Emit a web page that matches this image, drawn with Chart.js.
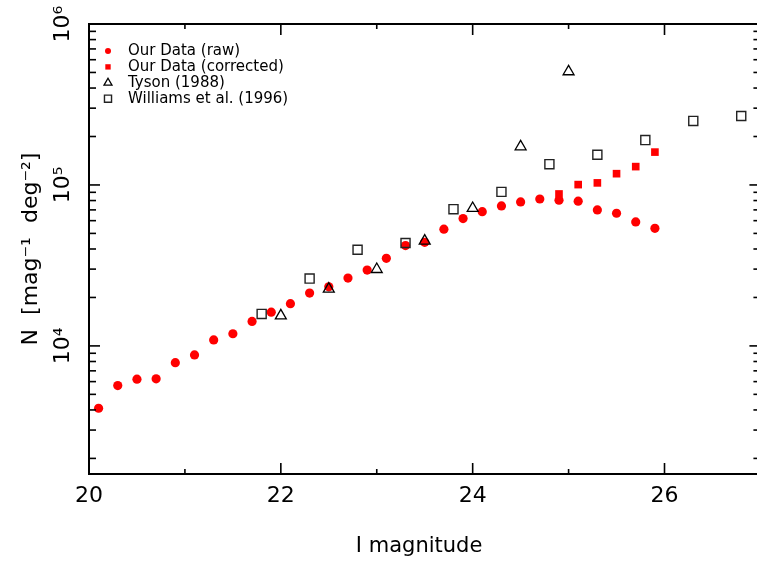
<!DOCTYPE html>
<html><head><meta charset="utf-8">
<script src="https://cdn.jsdelivr.net/npm/chart.js@4/dist/chart.umd.min.js"></script>
<style>html,body{margin:0;padding:0;background:#fff;}#wrap{width:757px;height:562px;}</style>
</head><body><div id="wrap"><canvas id="c" width="757" height="562"></canvas></div>
<script>
// ---- data ----
const rawMag = [20.1,20.3,20.5,20.7,20.9,21.1,21.3,21.5,21.7,21.9,22.1,22.3,22.5,22.7,22.9,23.1,23.3,23.5,23.7,23.9,24.1,24.3,24.5,24.7,24.9,25.1,25.3,25.5,25.7,25.9];
const rawN   = [4100,5670,6210,6240,7870,8790,10900,11900,14200,16200,18300,21300,23300,26400,29600,35000,42000,44000,53100,61800,68200,74100,78400,81800,80400,79300,70000,66700,58900,53800];
const corrMag = [24.9,25.1,25.3,25.5,25.7,25.9];
const corrN   = [87900,100500,103000,117500,130000,160000];
const tysonMag = [22.0,22.5,23.0,23.5,24.0,24.5,25.0];
const tysonN   = [15400,22600,29900,44900,71600,173000,506000];
const williamsMag = [21.8,22.3,22.8,23.3,23.8,24.3,24.8,25.3,25.8,26.3,26.8];
const williamsN   = [15800,26200,39600,43600,70700,90600,134600,154000,190000,250000,268000];
const seriesLabels = ['Our Data (raw)','Our Data (corrected)','Tyson (1988)','Williams et al. (1996)'];
const xTickValues = [20,22,24,26];
const yTickValues = [1e4,1e5,1e6];
const yTickLabels = ['10\u2074','10\u2075','10\u2076'];
const xTitle = 'I magnitude';
const yTitle = 'N  [mag\u207B\u00B9  deg\u207B\u00B2]';
const xFrameEnd = 27;   // the plot frame's right edge lies just outside the picture

const pts = (xs, ys) => xs.map((m, i) => ({x: m, y: ys[i]}));
const FONT = 'DejaVu Sans';

// inward ticks + frame on all four sides
const framePlugin = {
  id: 'frame',
  afterDraw(chart) {
    const {ctx, chartArea: a, scales: {x, y}} = chart;
    const R = x.getPixelForValue(xFrameEnd);
    ctx.save();
    ctx.strokeStyle = '#000';
    const seg = (x1, y1, x2, y2, w) => { ctx.lineWidth = w; ctx.beginPath(); ctx.moveTo(x1, y1); ctx.lineTo(x2, y2); ctx.stroke(); };
    for (let v = 20; v <= xFrameEnd; v++) {
      const px = x.getPixelForValue(v);
      const L = (v % 2 === 0) ? 11 : 5;
      seg(px, a.bottom, px, a.bottom - L, 1.6);
      seg(px, a.top, px, a.top + L, 1.6);
    }
    for (let e = 3; e <= 6; e++) {
      for (let k = 1; k < 10; k++) {
        const v = k * Math.pow(10, e);
        if (v < y.min || v > y.max) continue;
        const py = y.getPixelForValue(v);
        const L = k === 1 ? 11 : 7;
        seg(a.left, py, a.left + L, py, 1.6);
        seg(R, py, R - L, py, 1.6);
      }
    }
    ctx.lineWidth = 2;
    ctx.strokeRect(a.left, a.top, R - a.left, a.bottom - a.top);
    ctx.restore();
  }
};

const legendRadius = [3, 3.8, 4.6, 5];
const legendPlugin = {
  id: 'insideLegend',
  afterDraw(chart) {
    const {ctx, chartArea: a} = chart;
    ctx.save();
    ctx.font = '15px "' + FONT + '"';
    ctx.textBaseline = 'middle';
    ctx.textAlign = 'left';
    chart.data.datasets.forEach((ds, i) => {
      const cy = a.top + 27 + i * 15.9;
      const cx = a.left + 19;
      ctx.fillStyle = ds.backgroundColor;
      ctx.strokeStyle = ds.borderColor;
      ctx.lineWidth = ds.borderWidth;
      Chart.helpers.drawPoint(ctx, {pointStyle: ds.pointStyle, radius: legendRadius[i], borderWidth: ds.borderWidth, rotation: 0}, cx, cy);
      ctx.fillStyle = '#000';
      ctx.fillText(ds.label, a.left + 39, cy);
    });
    ctx.restore();
  }
};

new Chart(document.getElementById('c'), {
  type: 'scatter',
  data: {
    datasets: [
      {label: seriesLabels[0], data: pts(rawMag, rawN), pointStyle: 'circle', pointRadius: 4.6, backgroundColor: '#ff0000', borderColor: '#ff0000', borderWidth: 0, order: 4, clip: false},
      {label: seriesLabels[1], data: pts(corrMag, corrN), pointStyle: 'rect', pointRadius: 5.4, backgroundColor: '#ff0000', borderColor: '#ff0000', borderWidth: 0, order: 3, clip: false},
      {label: seriesLabels[2], data: pts(tysonMag, tysonN), pointStyle: 'triangle', pointRadius: 6.3, backgroundColor: 'rgba(0,0,0,0)', borderColor: '#000', borderWidth: 1.3, order: 1, clip: false},
      {label: seriesLabels[3], data: pts(williamsMag, williamsN), pointStyle: 'rect', pointRadius: 6.4, backgroundColor: 'rgba(0,0,0,0)', borderColor: '#222', borderWidth: 1.4, order: 2, clip: false}
    ]
  },
  options: {
    responsive: false,
    animation: false,
    devicePixelRatio: 1,
    layout: {padding: {left: 0, right: 0, top: 24, bottom: 0}},
    plugins: {legend: {display: false}, tooltip: {enabled: false}},
    scales: {
      x: {
        type: 'linear', min: 20, max: 26.883,
        afterBuildTicks: s => { s.ticks = xTickValues.map(v => ({value: v})); },
        afterFit: s => { s.height = 88; s.paddingLeft = 0; s.paddingRight = 0; },
        grid: {display: false, drawTicks: false},
        border: {display: false},
        ticks: {font: {family: FONT, size: 22}, color: '#000', padding: 9, maxRotation: 0, callback: v => String(v)},
        title: {display: true, text: xTitle, font: {family: FONT, size: 21, lineHeight: 1.2}, color: '#000', padding: {bottom: 3}}
      },
      y: {
        type: 'logarithmic', min: 1600, max: 1e6,
        afterBuildTicks: s => { s.ticks = yTickValues.map(v => ({value: v})); },
        afterFit: s => { s.width = 89; s.paddingTop = 0; s.paddingBottom = 0; },
        grid: {display: false, drawTicks: false},
        border: {display: false},
        ticks: {font: {family: FONT, size: 22}, color: '#000', padding: 7, minRotation: 90, maxRotation: 90, crossAlign: 'center',
          callback: v => { const i = yTickValues.indexOf(v); return i >= 0 ? yTickLabels[i] : ''; }},
        title: {display: true, text: yTitle, font: {family: FONT, size: 22, lineHeight: 1.2}, color: '#000', padding: {top: 18}}
      }
    }
  },
  plugins: [framePlugin, legendPlugin]
});
</script></body></html>
